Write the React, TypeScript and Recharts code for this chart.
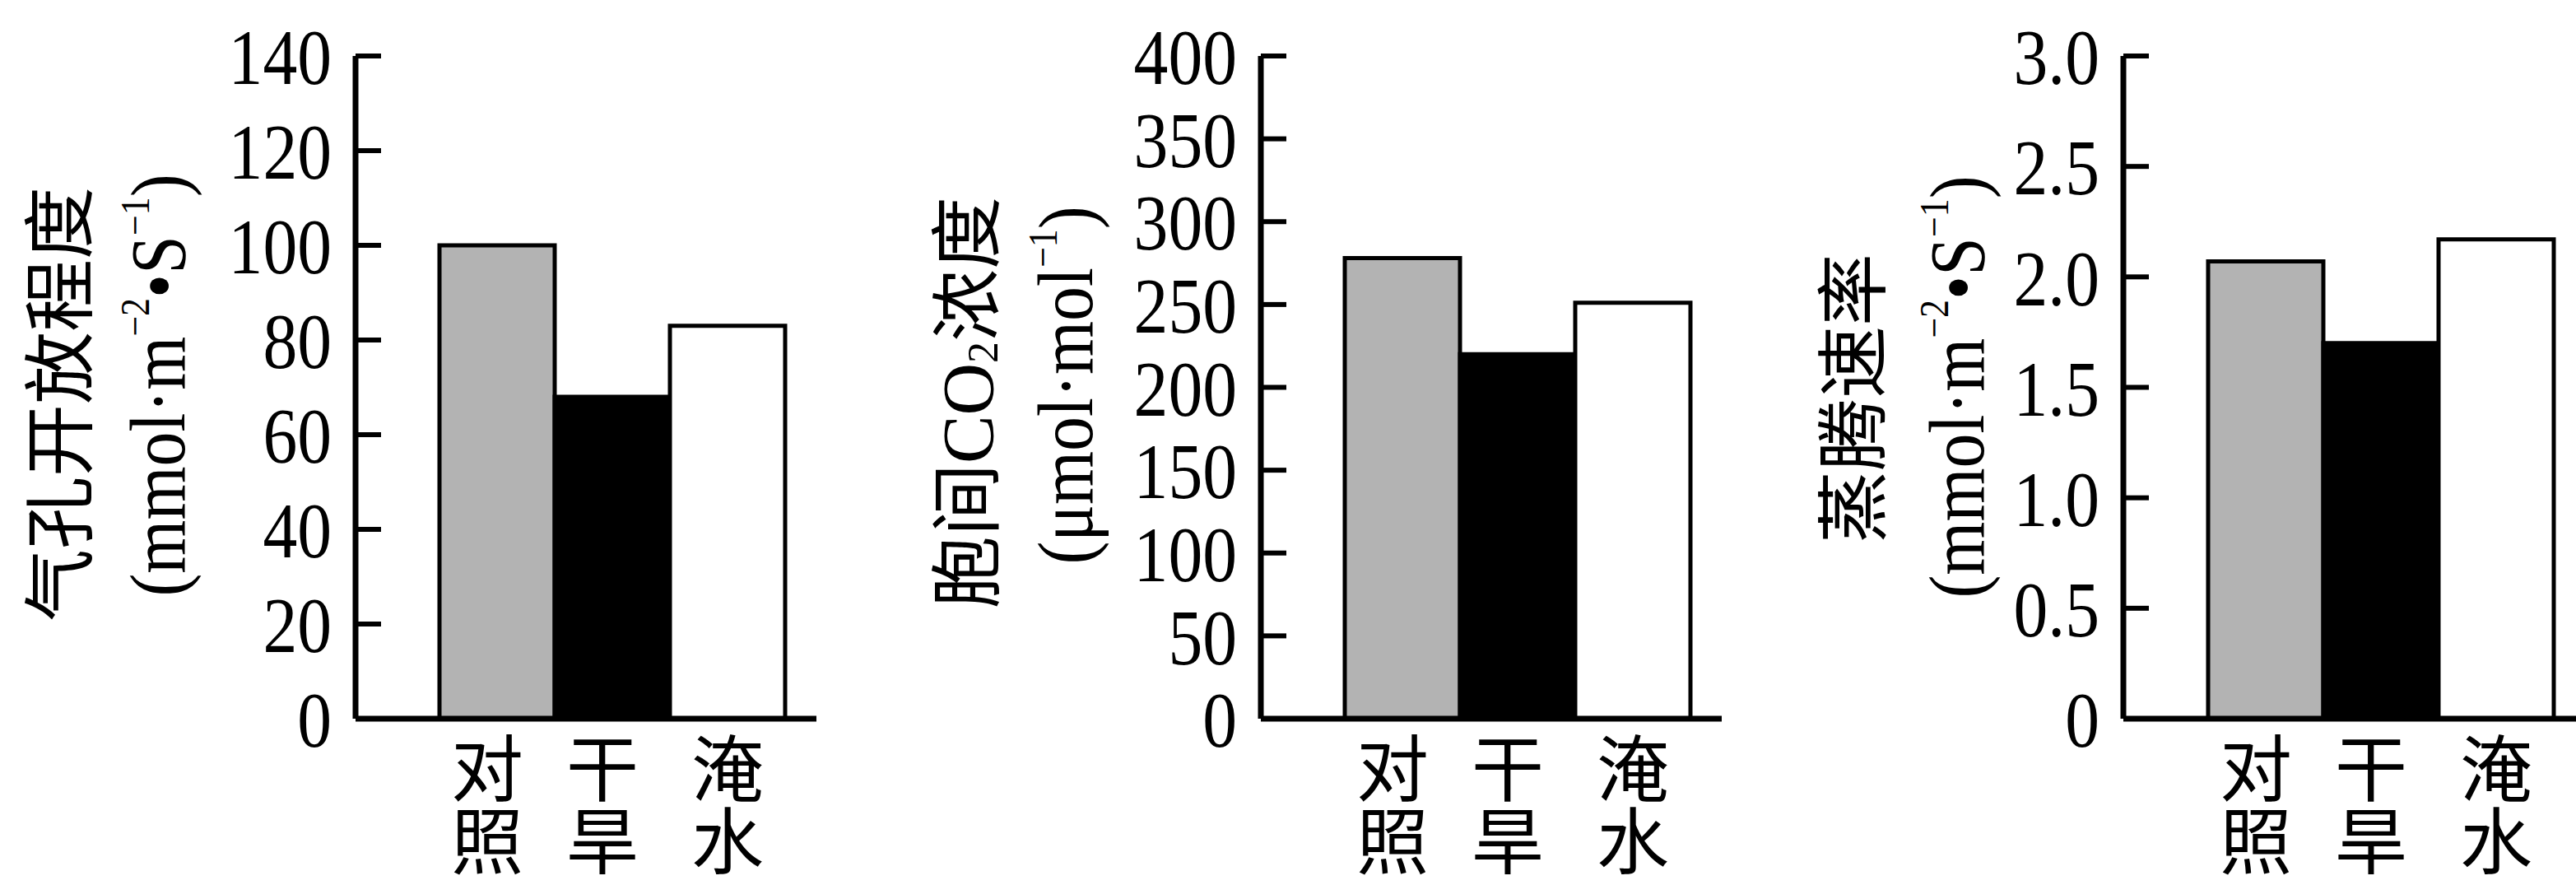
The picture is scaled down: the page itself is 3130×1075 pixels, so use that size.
import React from 'react';
import { BarChart, Bar, XAxis, YAxis, Cell } from 'recharts';

// categories and values
const categories = ['对照', '干旱', '淹水'];
const stomataValues = [100, 68, 83];
const co2Values = [278, 220, 251];
const transpirationValues = [2.07, 1.7, 2.17];

const stomataTicks = [0, 20, 40, 60, 80, 100, 120, 140];
const co2Ticks = [0, 50, 100, 150, 200, 250, 300, 350, 400];
const transpirationTicks = [0, 0.5, 1, 1.5, 2, 2.5, 3];

const barFills = ['#b3b3b3', '#000000', '#ffffff'];
// the category labels sit a little left of the bar centres in the original
const labelShift = [-12, -12, 0];

const SERIF = "'Liberation Serif', 'Times New Roman', 'Noto Sans CJK SC', serif";
const CJK = "'Noto Sans CJK SC', 'Liberation Serif', serif";

const TOP = 68;
const HEIGHT = 1075;
const AXIS_Y = 873;

const makeData = (values: number[]) =>
  categories.map((name, i) => ({ name, value: values[i] }));

const YTick = (props: any) => {
  const { x, y, payload, format } = props;
  return (
    <g>
      <line x1={x} x2={x + 31} y1={y} y2={y} stroke="#000" strokeWidth={6} />
      <text
        transform={`translate(${x - 29}, ${y}) scale(0.88, 1)`}
        x={0}
        y={0}
        dy="0.36em"
        textAnchor="end"
        fontSize={95}
        fontFamily={SERIF}
        fill="#000"
      >
        {format(payload.value)}
      </text>
    </g>
  );
};

const XTick = (props: any) => {
  const { x, y, payload, index } = props;
  const chars = String(payload.value).split('');
  const cx = x + (labelShift[index] || 0);
  return (
    <text x={cx} y={y} textAnchor="middle" dominantBaseline="central" fontSize={88} fontFamily={CJK} fill="#000">
      {chars.map((c, i) => (
        <tspan key={i} x={cx} dy={i === 0 ? 54 : 88}>
          {c}
        </tspan>
      ))}
    </text>
  );
};

// rotated two-line axis title
const Title = ({ x1, y1, x2, y2, line1, line2 }: any) => (
  <g>
    <text
      transform={`translate(${x1}, ${y1}) rotate(-90)`}
      x={0}
      y={0}
      textAnchor="middle"
      dominantBaseline="central"
      fontSize={88}
      fontFamily={SERIF}
      fill="#000"
    >
      {line1}
    </text>
    <text
      transform={`translate(${x2}, ${y2}) rotate(-90) scale(0.88, 1)`}
      x={0}
      y={0}
      textAnchor="middle"
      dominantBaseline="central"
      fontSize={95}
      fontFamily={SERIF}
      fill="#000"
    >
      {line2}
    </text>
  </g>
);

const unitMmol = (
  <>
    (mmol·m<tspan fontSize={50} dy={-28}>−2</tspan>
    <tspan dy={28}>•S</tspan>
    <tspan fontSize={50} dy={-28}>−1</tspan>
    <tspan dy={28}>)</tspan>
  </>
);

type PanelProps = {
  left: number;
  width: number;
  axisWidth: number;
  rightMargin: number;
  padLeft: number;
  values: number[];
  ticks: number[];
  format: (v: number) => string;
  title: React.ReactNode;
};

function Panel({ left, width, axisWidth, rightMargin, padLeft, values, ticks, format, title }: PanelProps) {
  const plotW = width - axisWidth - rightMargin;
  const padRight = plotW - padLeft - 420;
  return (
    <div style={{ position: 'absolute', left, top: 0, width, height: HEIGHT }}>
      <BarChart
        width={width}
        height={HEIGHT}
        data={makeData(values)}
        margin={{ top: TOP, right: rightMargin, bottom: 0, left: 0 }}
        barCategoryGap={0}
      >
        <XAxis
          dataKey="name"
          height={HEIGHT - AXIS_Y}
          padding={{ left: padLeft, right: padRight }}
          axisLine={{ stroke: '#000', strokeWidth: 7 }}
          tickLine={false}
          tickSize={0}
          tickMargin={0}
          interval={0}
          tick={<XTick />}
        />
        <YAxis
          width={axisWidth}
          domain={[ticks[0], ticks[ticks.length - 1]]}
          ticks={ticks}
          interval={0}
          axisLine={{ stroke: '#000', strokeWidth: 7 }}
          tickLine={false}
          tickSize={0}
          tickMargin={0}
          tick={<YTick format={format} />}
          label={{ content: () => title }}
        />
        <Bar dataKey="value" stroke="#000" strokeWidth={5} isAnimationActive={false}>
          {values.map((_, i) => (
            <Cell key={i} fill={barFills[i]} />
          ))}
        </Bar>
      </BarChart>
    </div>
  );
}

export default function App() {
  return (
    <div style={{ position: 'absolute', left: 0, top: 0, width: 3130, height: HEIGHT, overflow: 'hidden', background: '#fff' }}>
      <Panel
        left={0}
        width={1012}
        axisWidth={432}
        rightMargin={20}
        padLeft={102}
        values={stomataValues}
        ticks={stomataTicks}
        format={(v) => String(v)}
        title={<Title x1={74} y1={491} x2={192} y2={468} line1="气孔开放程度" line2={unitMmol} />}
      />
      <Panel
        left={1020}
        width={1084}
        axisWidth={512}
        rightMargin={12}
        padLeft={102}
        values={co2Values}
        ticks={co2Ticks}
        format={(v) => String(v)}
        title={
          <Title
            x1={156}
            y1={489}
            x2={275}
            y2={468}
            line1={
              <>
                胞间CO<tspan fontSize={52} dy={18}>2</tspan>
                <tspan dy={-18}>浓度</tspan>
              </>
            }
            line2={
              <>
                (μmol·mol<tspan fontSize={50} dy={-28}>−1</tspan>
                <tspan dy={28}>)</tspan>
              </>
            }
          />
        }
      />
      <Panel
        left={2110}
        width={1020}
        axisWidth={470}
        rightMargin={0}
        padLeft={103}
        values={transpirationValues}
        ticks={transpirationTicks}
        format={(v) => (v === 0 ? '0' : v.toFixed(1))}
        title={<Title x1={143} y1={484} x2={268} y2={470} line1="蒸腾速率" line2={unitMmol} />}
      />
    </div>
  );
}
